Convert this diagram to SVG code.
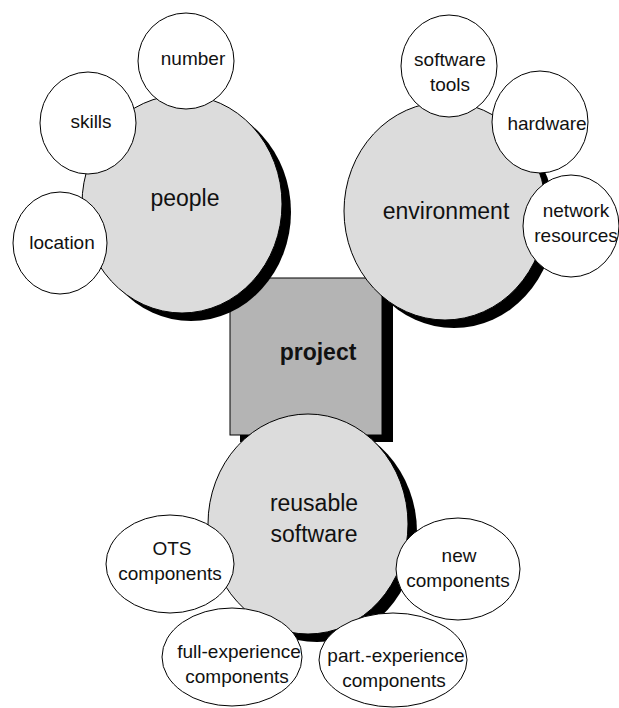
<svg xmlns="http://www.w3.org/2000/svg" width="619" height="708" viewBox="0 0 619 708">
<style>
.bg{fill:#ffffff}
.shadow{fill:#000000;stroke:none}
.big{fill:#dcdcdc;stroke:#000;stroke-width:1}
.small{fill:#ffffff;stroke:#000;stroke-width:1}
.box{fill:#b4b4b4;stroke:#000;stroke-width:1}
text{font-family:"Liberation Sans",Arial,sans-serif;fill:#111;text-anchor:middle}
.lb{font-size:23px}
.ls{font-size:19px}
.lp{font-size:23px;font-weight:bold}
</style>
<rect class="bg" x="0" y="0" width="619" height="708"/>
<g id="connectors"></g>
<g id="project">
<rect class="shadow" x="240" y="285" width="153" height="157"/>
<rect class="box" x="230" y="278" width="152" height="157"/>
<text class="lp" x="318" y="360">project</text>
</g>
<g id="people">
<ellipse class="shadow" cx="191" cy="212" rx="100" ry="109"/>
<ellipse class="big" cx="182" cy="204" rx="100" ry="109"/>
<text class="lb" x="185" y="206">people</text>
</g>
<g id="environment">
<ellipse class="shadow" cx="454" cy="219" rx="101" ry="109"/>
<ellipse class="big" cx="445" cy="211" rx="101" ry="109"/>
<text class="lb" x="446" y="219">environment</text>
</g>
<g id="reusable-software">
<ellipse class="shadow" cx="317" cy="532" rx="100" ry="110"/>
<ellipse class="big" cx="308" cy="524" rx="100" ry="110"/>
<text class="lb" x="314" y="511">reusable</text>
<text class="lb" x="314" y="542">software</text>
</g>
<g id="number">
<ellipse class="small" cx="186" cy="61" rx="48" ry="48"/>
<text class="ls" x="193" y="65">number</text>
</g>
<g id="skills">
<ellipse class="small" cx="88" cy="123" rx="48" ry="51"/>
<text class="ls" x="91" y="128">skills</text>
</g>
<g id="location">
<ellipse class="small" cx="60" cy="243" rx="47" ry="51"/>
<text class="ls" x="62" y="249">location</text>
</g>
<g id="software-tools">
<ellipse class="small" cx="449" cy="66" rx="48" ry="51"/>
<text class="ls" x="450" y="66">software</text>
<text class="ls" x="450" y="91">tools</text>
</g>
<g id="hardware">
<ellipse class="small" cx="540" cy="122" rx="48" ry="51"/>
<text class="ls" x="547" y="130">hardware</text>
</g>
<g id="network-resources">
<ellipse class="small" cx="571" cy="226" rx="48" ry="51"/>
<text class="ls" x="576" y="217">network</text>
<text class="ls" x="576" y="242">resources</text>
</g>
<g id="ots-components">
<ellipse class="small" cx="170" cy="564" rx="64" ry="49"/>
<text class="ls" x="172" y="555">OTS</text>
<text class="ls" x="170" y="580">components</text>
</g>
<g id="new-components">
<ellipse class="small" cx="458" cy="569" rx="62" ry="51"/>
<text class="ls" x="459" y="562">new</text>
<text class="ls" x="458" y="587">components</text>
</g>
<g id="full-experience-components">
<ellipse class="small" cx="232" cy="657" rx="70" ry="49"/>
<text class="ls" x="239" y="658">full-experience</text>
<text class="ls" x="237" y="683">components</text>
</g>
<g id="part-experience-components">
<ellipse class="small" cx="393" cy="660" rx="74" ry="47"/>
<text class="ls" x="396" y="662">part.-experience</text>
<text class="ls" x="394" y="687">components</text>
</g>
</svg>
